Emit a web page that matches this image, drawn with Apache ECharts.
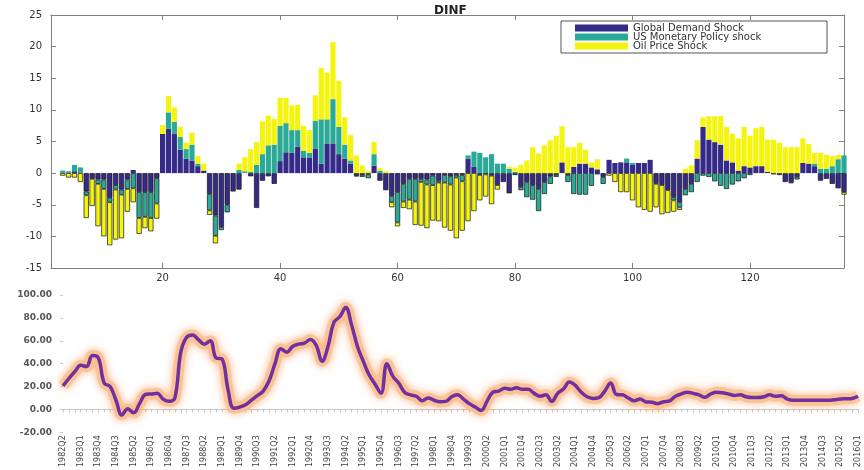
<!DOCTYPE html>
<html>
<head>
<meta charset="utf-8">
<script src="https://cdn.jsdelivr.net/npm/echarts@6/dist/echarts.min.js"></script>
<style>
    html, body { margin: 0; padding: 0; background: #fff; }
    #chart { width: 864px; height: 470px; }
</style>
</head>
<body>
<div id="chart"></div>
<script>
    // period index of the decomposition (1..136)
    const periods = Array.from({length: 136}, (_, i) => String(i + 1));

    const globalDemand = [
        0, 0, 0.1, 0.1, 0.3, 0.1, -2.9, -0.9, -1.0, -1.0,
        -3.9, -1.9, -2.6, -1.0, 0.5, -3.0, -3.0, -3.0, -0.8, 6.2,
        7.0, 6.2, 3.7, 2.3, 2.0, 1.1, 0.4, -3.3, -6.7, -8.5,
        -5.0, -2.9, -2.6, 0.1, -0.5, -5.5, -1.2, -0.5, -1.7, 1.9,
        3.3, 3.2, 4.2, 2.5, 2.4, 3.9, 1.5, 4.7, 4.7, 3.0,
        2.3, 1.5, -0.4, -0.3, -0.2, 1.2, -1.2, -2.7, -3.6, -3.0,
        -1.7, -0.9, -0.9, -0.9, -1.0, -0.4, -1.2, -0.3, -0.5, -0.3,
        -0.3, 2.3, 1.0, -0.3, -0.2, -0.4, -1.9, -1.4, -3.2, -0.3,
        -2.2, -1.4, -1.9, -2.5, -1.4, -0.5, -0.3, 1.7, -0.3, 1.0,
        1.5, 1.5, 0.9, 0.6, -0.6, 2.1, 1.6, 1.7, 1.7, 1.3,
        1.6, 1.6, 2.1, -1.7, -1.9, -2.7, -3.8, -4.6, -2.5, -1.7,
        2.3, 7.3, 5.3, 4.9, 4.5, 2.0, 1.7, 0.4, 1.1, 0.9,
        1.1, 1.1, 0.2, -0.2, -0.3, -1.4, -1.4, -0.6, 1.6, 1.5,
        1.1, -1.2, -0.9, -1.7, -2.4, -3.0
    ];

    const usMonetary = [
        0, 0, 0.3, 0.2, 1.0, 0.8, -0.6, 0, -0.7, -1.5,
        -0.7, -0.7, -0.8, -1.5, -2.4, -4.1, -3.9, -4.1, -4.0, 0,
        2.6, 1.9, 2.0, 1.5, 2.5, 0.4, 0, -2.6, -3.2, -0.5,
        -1.2, 0, 0.5, 0.2, 0.2, 1.3, 3.0, 4.4, 4.5, 5.6,
        4.6, 3.6, 2.6, 1.0, 0.8, 4.4, 7.0, 3.8, 7.0, 4.3,
        2.2, 0.5, -0.1, -0.3, -0.6, 1.8, 0.4, 0, -1.0, -4.8,
        -2.8, -3.3, -3.6, -0.5, -0.8, -1.5, -0.3, -1.2, -1.3, -0.4,
        -1.0, 0.5, 2.4, 3.2, 2.5, 3.0, 1.5, 1.5, 0.7, 0.2,
        -0.5, -2.4, -2.3, -3.5, -1.9, -1.2, -0.3, 0, -1.1, -3.3,
        -3.4, -3.4, -2.0, -0.2, -1.1, 0, 0, 0, 0.6, 0.3,
        0, 0, 0, 0, 0, 0, -0.5, -0.8, -1.0, -1.3,
        -1.4, -0.4, -0.6, -1.3, -2.0, -2.5, -1.8, -1.3, -0.8, -0.3,
        0, 0, 0, 0, 0, 0, -0.2, -0.4, 0, 0,
        0.4, 0.7, 0.7, 1.1, 2.2, 2.8
    ];

    const oilPrice = [
        0, 0, -0.4, -0.7, -0.7, -1.4, -3.6, -4.3, -6.7, -7.5,
        -6.8, -7.9, -6.9, -3.6, -2.2, -2.5, -1.8, -2.1, -2.4, 1.4,
        2.6, 2.3, 1.6, 1.0, 1.9, 1.2, 1.1, -0.7, -1.2, 0,
        0, 0, 1.0, 2.2, 3.6, 3.6, 5.2, 4.7, 4.1, 4.4,
        4.0, 3.9, 4.0, 4.0, 3.6, 4.0, 8.1, 7.4, 9.0, 7.3,
        4.3, 4.0, 2.8, 1.2, 0.3, 1.9, 0.4, 0.3, -0.8, -0.6,
        -1.0, -1.5, -3.7, -6.9, -6.9, -5.6, -6.1, -7.1, -7.3, -9.6,
        -7.8, -7.6, -6.0, -4.0, -3.5, -4.5, -0.7, 0, 0.3, 0.7,
        1.3, 2.0, 4.1, 3.1, 4.4, 5.2, 5.9, 5.7, 4.1, 3.1,
        3.3, 2.2, 0.8, 1.6, 0, -0.4, -1.4, -3.0, -3.0, -4.3,
        -5.4, -5.8, -6.1, -3.7, -4.6, -3.6, -1.8, -0.4, 0.7, 1.2,
        2.9, 1.5, 3.7, 4.1, 4.5, 5.3, 4.5, 5.1, 6.2, 5.0,
        6.0, 6.2, 5.1, 5.3, 4.8, 4.1, 4.1, 4.1, 3.9, 3.1,
        1.7, 2.5, 2.2, 1.6, 0.7, -0.4
    ];

    // quarters 1982Q2 .. 2016Q1
    const quarters = [];
    for (let i = 0; i < 136; i++) {
        const q = i + 1; // 1982Q2 -> offset 1 within 1982
        quarters.push((1982 + Math.floor(q / 4)) + 'Q' + (q % 4 + 1));
    }

    const inflation = [
        20.6, 27, 33, 38.5, 37.5, 47, 45, 23, 20, 8,
        -5, 0.5, -3, 5, 13, 13.5, 14, 9, 7, 10,
        50, 63, 65, 61, 57, 60, 45, 44, 18, 1,
        2, 4, 8, 12, 16, 25, 40, 53, 50, 55,
        57, 58, 61, 56, 42, 55, 76, 81, 89, 74,
        55, 42, 30, 22, 14, 40, 29, 23, 15, 12.7,
        11.5, 7.5, 10, 8, 6.7, 7, 11, 12.7, 9, 5,
        2, -1, 7, 15, 16, 18.5, 17.5, 19, 17.5, 17.5,
        14, 11.5, 12.7, 7, 14, 18, 24, 21, 15, 11,
        9.6, 10.3, 16, 23, 13, 12.7, 10, 7.5, 9, 6.5,
        6.2, 5, 6.7, 7.5, 11.5, 13.5, 15, 14, 12.7, 10.5,
        13.5, 15, 14.5, 13.5, 12.2, 12.7, 11, 10.3, 10.3, 11,
        12.7, 11.5, 12, 9, 8, 8, 8, 8, 8, 8,
        8, 8.5, 9, 9.3, 9.6, 11.5
    ];

    const axisGray = '#7f7f7f';
    const everyTwenty = (idx) => (idx + 1) % 20 === 0;

    // negative bars carry a dark outline like in the original figure
    function barData(arr) {
        return arr.map(v => v < 0 ? {value: v, itemStyle: {borderColor: '#151515', borderWidth: 0.7}} : v);
    }

    function barSeries(name, arr, color) {
        return {
            name: name,
            type: 'bar',
            stack: 'shock',
            xAxisIndex: 0,
            yAxisIndex: 0,
            barCategoryGap: '12%',
            itemStyle: {color: color},
            data: barData(arr)
        };
    }

    const myChart = echarts.init(document.getElementById('chart'), null, {renderer: 'canvas'});

    const option = {
        backgroundColor: '#fff',
        animation: false,
        title: {
            text: 'DINF',
            left: 429,
            top: 0,
            textStyle: {fontSize: 12, fontWeight: 'bold', color: '#222', fontFamily: 'DejaVu Sans'}
        },
        legend: {
            data: ['Global Demand Shock', 'US Monetary Policy shock', 'Oil Price Shock'],
            orient: 'vertical',
            left: 561,
            top: 21,
            icon: 'rect',
            itemWidth: 53,
            itemHeight: 7,
            itemGap: -1,
            padding: [2, 8, 2, 14],
            borderColor: '#555',
            borderWidth: 1,
            borderRadius: 0,
            backgroundColor: '#fff',
            textStyle: {fontSize: 10, lineHeight: 10, color: '#333', width: 186, fontFamily: 'DejaVu Sans'}
        },
        grid: [
            {left: 51, right: 20, top: 15, bottom: 202},
            {left: 63, right: 6, top: 295, bottom: 9}
        ],
        xAxis: [
            {
                gridIndex: 0, type: 'category', data: periods, boundaryGap: false, position: 'bottom',
                axisLine: {onZero: false, lineStyle: {color: axisGray}},
                axisTick: {inside: true, length: 5, interval: everyTwenty, lineStyle: {color: axisGray}},
                axisLabel: {interval: everyTwenty, fontSize: 10, color: '#333', margin: 5, fontFamily: 'DejaVu Sans'},
                splitLine: {show: false}
            },
            {
                gridIndex: 0, type: 'category', data: periods, boundaryGap: false, position: 'top',
                axisLine: {onZero: false, lineStyle: {color: axisGray}},
                axisTick: {inside: true, length: 5, interval: everyTwenty, lineStyle: {color: axisGray}},
                axisLabel: {show: false},
                splitLine: {show: false}
            },
            {
                gridIndex: 1, type: 'category', data: quarters, boundaryGap: false,
                axisLine: {onZero: true, lineStyle: {color: '#c8c8c8'}},
                axisTick: {show: true, interval: 0, length: 3, lineStyle: {color: '#c8c8c8'}},
                axisLabel: {interval: 2, rotate: 90, fontSize: 8, color: '#444', margin: 3, fontFamily: 'DejaVu Sans'},
                splitLine: {show: false}
            }
        ],
        yAxis: [
            {
                gridIndex: 0, type: 'value', min: -15, max: 25, interval: 5,
                axisLine: {show: true, lineStyle: {color: axisGray}},
                axisTick: {show: true, inside: true, length: 5, lineStyle: {color: axisGray}},
                axisLabel: {fontSize: 10, color: '#333', margin: 9, fontFamily: 'DejaVu Sans'},
                splitLine: {show: false}
            },
            {
                gridIndex: 0, type: 'value', position: 'right', min: -15, max: 25, interval: 5,
                axisLine: {show: true, lineStyle: {color: axisGray}},
                axisTick: {show: true, inside: true, length: 5, lineStyle: {color: axisGray}},
                axisLabel: {show: false},
                splitLine: {show: false}
            },
            {
                gridIndex: 1, type: 'value', min: -20, max: 100, interval: 20,
                axisLine: {show: false},
                axisTick: {show: true, length: 3, lineStyle: {color: '#c8c8c8'}},
                axisLabel: {
                    formatter: v => v.toFixed(2), fontSize: 9, fontWeight: 'bold',
                    color: '#555', margin: 11, fontFamily: 'DejaVu Sans'
                },
                splitLine: {show: false}
            }
        ],
        series: [
            barSeries('Global Demand Shock', globalDemand, '#352a87'),
            barSeries('US Monetary Policy shock', usMonetary, '#2aa996'),
            barSeries('Oil Price Shock', oilPrice, '#f4f40e'),
            {
                name: 'glow',
                type: 'line',
                xAxisIndex: 2,
                yAxisIndex: 2,
                data: inflation,
                smooth: 0.4,
                symbol: 'none',
                silent: true,
                lineStyle: {
                    width: 11,
                    color: 'rgba(250,190,140,0.75)',
                    shadowBlur: 9,
                    shadowColor: 'rgba(245,150,80,0.9)'
                },
                z: 1
            },
            {
                name: 'DINF line',
                type: 'line',
                xAxisIndex: 2,
                yAxisIndex: 2,
                data: inflation,
                smooth: 0.4,
                symbol: 'none',
                lineStyle: {width: 3.5, color: '#7030a0'},
                z: 3
            }
        ]
    };

    myChart.setOption(option);
</script>
</body>
</html>
